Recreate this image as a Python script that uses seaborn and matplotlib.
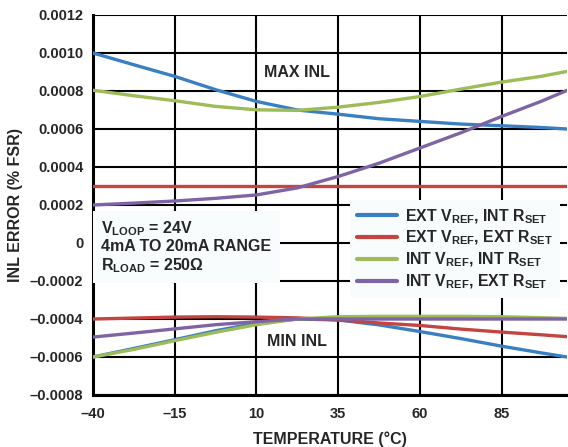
import numpy as np
import pandas as pd
import matplotlib
matplotlib.use("Agg")
import matplotlib.pyplot as plt
import seaborn as sns

# ---- data ----
temps = [-40, -27.5, -15, -2.5, 10, 22.5, 35, 47.5, 60, 72.5, 85, 97, 105]

series_names = [
    r"EXT V$_{REF}$, INT R$_{SET}$",
    r"EXT V$_{REF}$, EXT R$_{SET}$",
    r"INT V$_{REF}$, INT R$_{SET}$",
    r"INT V$_{REF}$, EXT R$_{SET}$",
]

max_ext_int = [0.00100, 0.000938, 0.000877, 0.000807, 0.000745, 0.000700, 0.000678, 0.000654, 0.000640, 0.000626, 0.000617, 0.000608, 0.000600]
max_ext_ext = [0.00030, 0.00030, 0.00030, 0.00030, 0.00030, 0.00030, 0.00030, 0.00030, 0.00030, 0.00030, 0.00030, 0.00030, 0.00030]
max_int_int = [0.000804, 0.000775, 0.000749, 0.000719, 0.000701, 0.000698, 0.000715, 0.000740, 0.000771, 0.000810, 0.000847, 0.000877, 0.000903]
max_int_ext = [0.000200, 0.000210, 0.000221, 0.000235, 0.000253, 0.000290, 0.000350, 0.000420, 0.000500, 0.000580, 0.000666, 0.000745, 0.000803]

min_ext_int = [-0.000600, -0.000555, -0.000509, -0.000462, -0.000422, -0.000400, -0.000405, -0.000431, -0.000466, -0.000503, -0.000543, -0.000578, -0.000600]
min_ext_ext = [-0.000400, -0.000395, -0.000390, -0.000388, -0.000390, -0.000394, -0.000405, -0.000421, -0.000434, -0.000453, -0.000469, -0.000483, -0.000493]
min_int_int = [-0.000600, -0.000560, -0.000514, -0.000470, -0.000430, -0.000400, -0.000388, -0.000386, -0.000386, -0.000386, -0.000388, -0.000393, -0.000397]
min_int_ext = [-0.000495, -0.000474, -0.000452, -0.000430, -0.000414, -0.000400, -0.000400, -0.000400, -0.000400, -0.000400, -0.000400, -0.000400, -0.000400]

colors = ["#3a7fc1", "#c4453f", "#9dbb56", "#7f64a5"]

x_ticks = [-40, -15, 10, 35, 60, 85]
y_ticks = [-0.0008, -0.0006, -0.0004, -0.0002, 0, 0.0002, 0.0004, 0.0006, 0.0008, 0.0010, 0.0012]
y_ticklabels = ["\u20130.0008", "\u20130.0006", "\u20130.0004", "\u20130.0002", "0",
                "0.0002", "0.0004", "0.0006", "0.0008", "0.0010", "0.0012"]
x_ticklabels = ["\u201340", "\u201315", "10", "35", "60", "85"]

# ---- long-form table ----
rows = []
maxs = [max_ext_int, max_ext_ext, max_int_int, max_int_ext]
mins = [min_ext_int, min_ext_ext, min_int_int, min_int_ext]
for name, mx, mn in zip(series_names, maxs, mins):
    for t, v in zip(temps, mx):
        rows.append({"temp": t, "inl": v, "series": name, "bound": "max"})
    for t, v in zip(temps, mn):
        rows.append({"temp": t, "inl": v, "series": name, "bound": "min"})
df = pd.DataFrame(rows)

# ---- style ----
sns.set_style("white")
plt.rcParams["font.family"] = ["Liberation Sans", "DejaVu Sans"]
plt.rcParams["font.weight"] = "bold"
plt.rcParams["mathtext.fontset"] = "custom"
plt.rcParams["mathtext.rm"] = "Liberation Sans:bold"
plt.rcParams["mathtext.it"] = "Liberation Sans:bold"
plt.rcParams["mathtext.bf"] = "Liberation Sans:bold"
plt.rcParams["mathtext.default"] = "rm"

fig = plt.figure(figsize=(5.68, 4.47), dpi=100)
ax = fig.add_axes([93 / 568, 1 - 395 / 447, (567 - 93) / 568, (395 - 15) / 447])

sns.lineplot(data=df, x="temp", y="inl", hue="series", units="bound",
             estimator=None, palette=colors, hue_order=series_names,
             linewidth=2.4, ax=ax, legend=True, zorder=3)

ax.set_xlim(-40, 105)
ax.set_ylim(-0.0008, 0.0012)
ax.set_xticks(x_ticks)
ax.set_xticklabels(x_ticklabels)
ax.set_yticks(y_ticks)
ax.set_yticklabels(y_ticklabels)
ax.tick_params(axis="both", labelsize=10.5, length=0)
ax.tick_params(axis="x", pad=9)
ax.tick_params(axis="y", pad=7)
for lab in ax.get_xticklabels() + ax.get_yticklabels():
    lab.set_fontweight("bold")

ax.grid(True, color="black", linewidth=1.5, zorder=0)
ax.set_axisbelow(True)
for sp in ax.spines.values():
    sp.set_color("black")
    sp.set_linewidth(2.2)
ax.spines["right"].set_visible(False)
ax.spines["top"].set_visible(False)

ax.set_xlabel("TEMPERATURE (\u00b0C)", fontsize=11.5, fontweight="bold", labelpad=7)
ax.set_ylabel("INL ERROR (% FSR)", fontsize=11.5, fontweight="bold", labelpad=5)

leg = ax.legend(loc="upper left", bbox_to_anchor=(0.542, 0.513), frameon=True,
                fontsize=11.4, handlelength=2.5, handletextpad=0.5,
                labelspacing=0.22, borderpad=0.45, borderaxespad=0)
leg.get_frame().set_facecolor("#f8fcfd")
leg.get_frame().set_edgecolor("none")
leg.get_frame().set_alpha(1)
leg.set_zorder(5)
for h in leg.legend_handles:
    h.set_linewidth(3)
for t in leg.get_texts():
    t.set_fontweight("bold")

ax.text(-37.5, -0.00002, "V$_{LOOP}$ = 24V\n4mA TO 20mA RANGE\nR$_{LOAD}$ = 250\u03a9",
        fontsize=11.5, fontweight="bold", va="center", ha="left", linespacing=1.12,
        bbox=dict(facecolor="#f8fcfd", edgecolor="none", pad=6), zorder=4)

ax.text(22.5, 0.000895, "MAX INL", fontsize=11.5, fontweight="bold", ha="center", va="center",
        zorder=4)
ax.text(22.5, -0.000521, "MIN INL", fontsize=11.5, fontweight="bold", ha="center", va="center",
        zorder=4)

fig.savefig("out.png", dpi=100)
